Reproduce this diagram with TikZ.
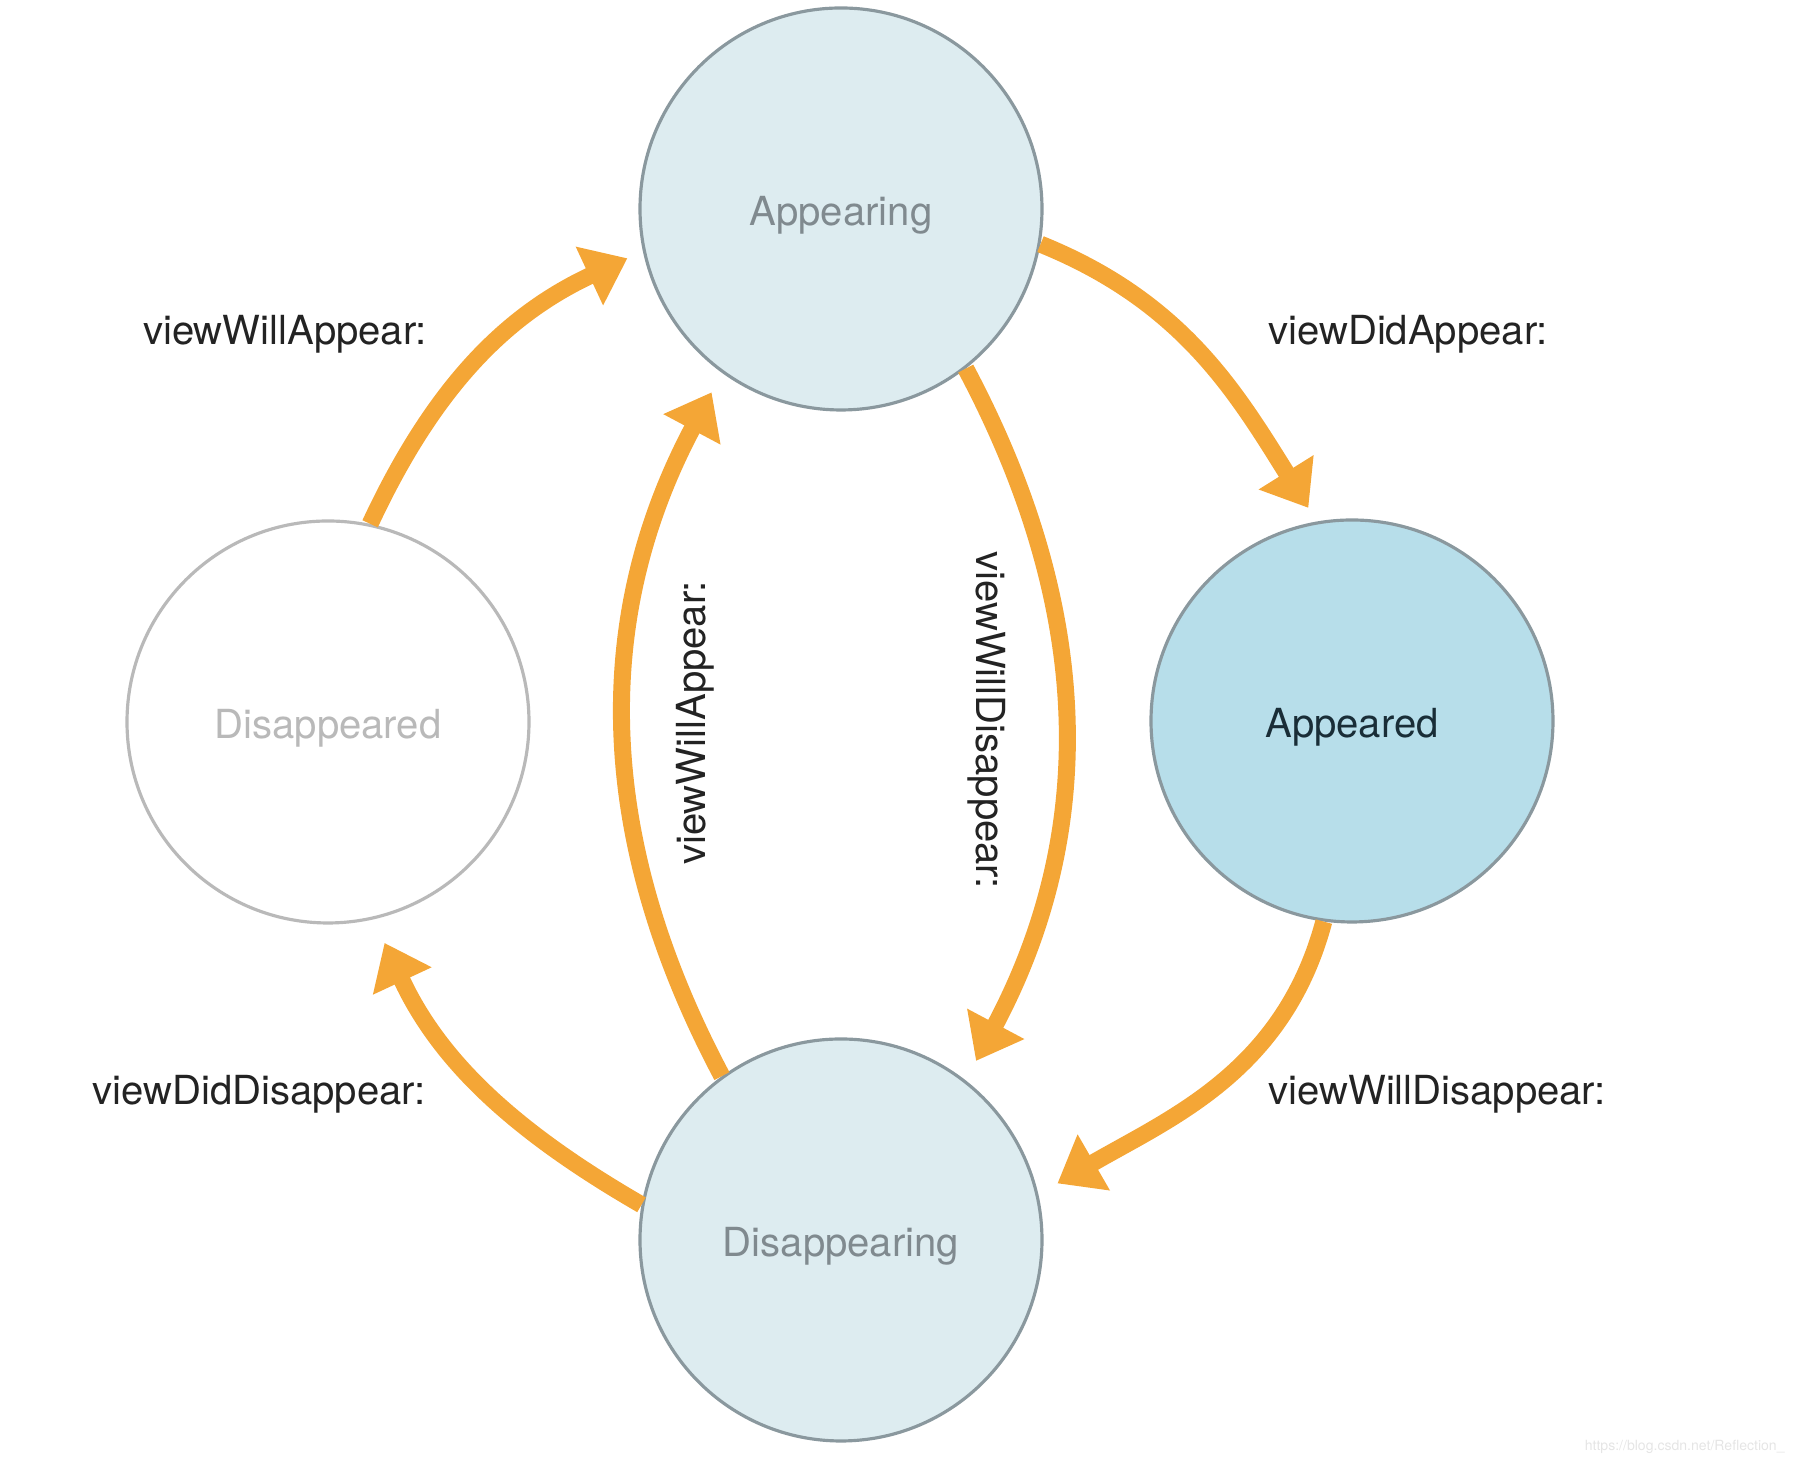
\documentclass[tikz,border=0pt]{standalone}
\usepackage{fontspec}
\setmainfont{TeX Gyre Heros}
\usepackage{tikz}
\usetikzlibrary{arrows.meta}
\definecolor{VCOrange}{RGB}{244,166,54}
\definecolor{VCPale}{RGB}{221,236,240}
\definecolor{VCBlue}{RGB}{183,222,234}
\definecolor{VCEdge}{RGB}{138,152,158}
\definecolor{VCLight}{RGB}{185,185,185}
\definecolor{VCGrey}{RGB}{128,138,143}
\definecolor{VCDark}{RGB}{25,45,55}
\definecolor{VCInk}{RGB}{35,35,35}

\begin{document}
\begin{tikzpicture}[
          state/.style={circle, minimum size=4.02cm, inner sep=0pt,
                        draw=VCEdge, line width=0.9pt,
                        text height=0.42cm, text depth=0.09cm,
                        font=\fontsize{11.4}{13}\selectfont},
          flow/.style={-{Triangle[length=0.42cm, width=0.62cm]},
                       line width=0.17cm, VCOrange, shorten >=0.22cm},
          call/.style={font=\fontsize{11.4}{13}\selectfont, text=VCInk}
        ]
        \useasboundingbox (0,0) rectangle (18.06,14.64);
        \node[state, fill=VCPale, text=VCGrey]  (appearing)    at (8.41, 12.55) {Appearing};
        \node[state, fill=VCBlue, text=VCDark]  (appeared)     at (13.52, 7.43) {Appeared};
        \node[state, fill=VCPale, text=VCGrey]  (disappearing) at (8.41, 2.24)  {Disappearing};
        \node[state, fill=white, draw=VCLight, text=VCLight] (disappeared) at (3.28, 7.42) {Disappeared};

        % Transitions
        \draw[flow, shorten >=0.17cm] (disappeared.78) to[out=65, in=205] (appearing.192);
        \draw[flow, shorten >=0.16cm] (appearing.350) to[out=-22, in=122] (appeared.100);
        \draw[flow] (appeared.262) to[out=-105, in=30] (disappearing.13);
        \draw[flow, shorten >=0.26cm] (disappearing.170) to[out=150, in=-65] (disappeared.283);
        \draw[flow] (disappearing.126) to[out=118, in=242] (appearing.234);
        \draw[flow] (appearing.308) to[out=-62, in=62] (disappearing.52);

        % Method labels
        \node[call] (willappear)     at (2.85, 11.30) {viewWillAppear:};
        \node[call] (didappear)      at (14.08, 11.30) {viewDidAppear:};
        \node[call] (willdisappear)  at (14.37, 3.70) {viewWillDisappear:};
        \node[call] (diddisappear)   at (2.59, 3.70)  {viewDidDisappear:};
        \node[call, rotate=90]  (backappear)   at (6.95, 7.41) {viewWillAppear:};
        \node[call, rotate=-90] (backdisappear) at (9.87, 7.44) {viewWillDisappear:};

        \node[anchor=east, text=black!10, font=\fontsize{4}{5}\selectfont]
              (mark) at (17.97, 0.17) {https://blog.csdn.net/Reflection\_};
      \end{tikzpicture}
\end{document}
